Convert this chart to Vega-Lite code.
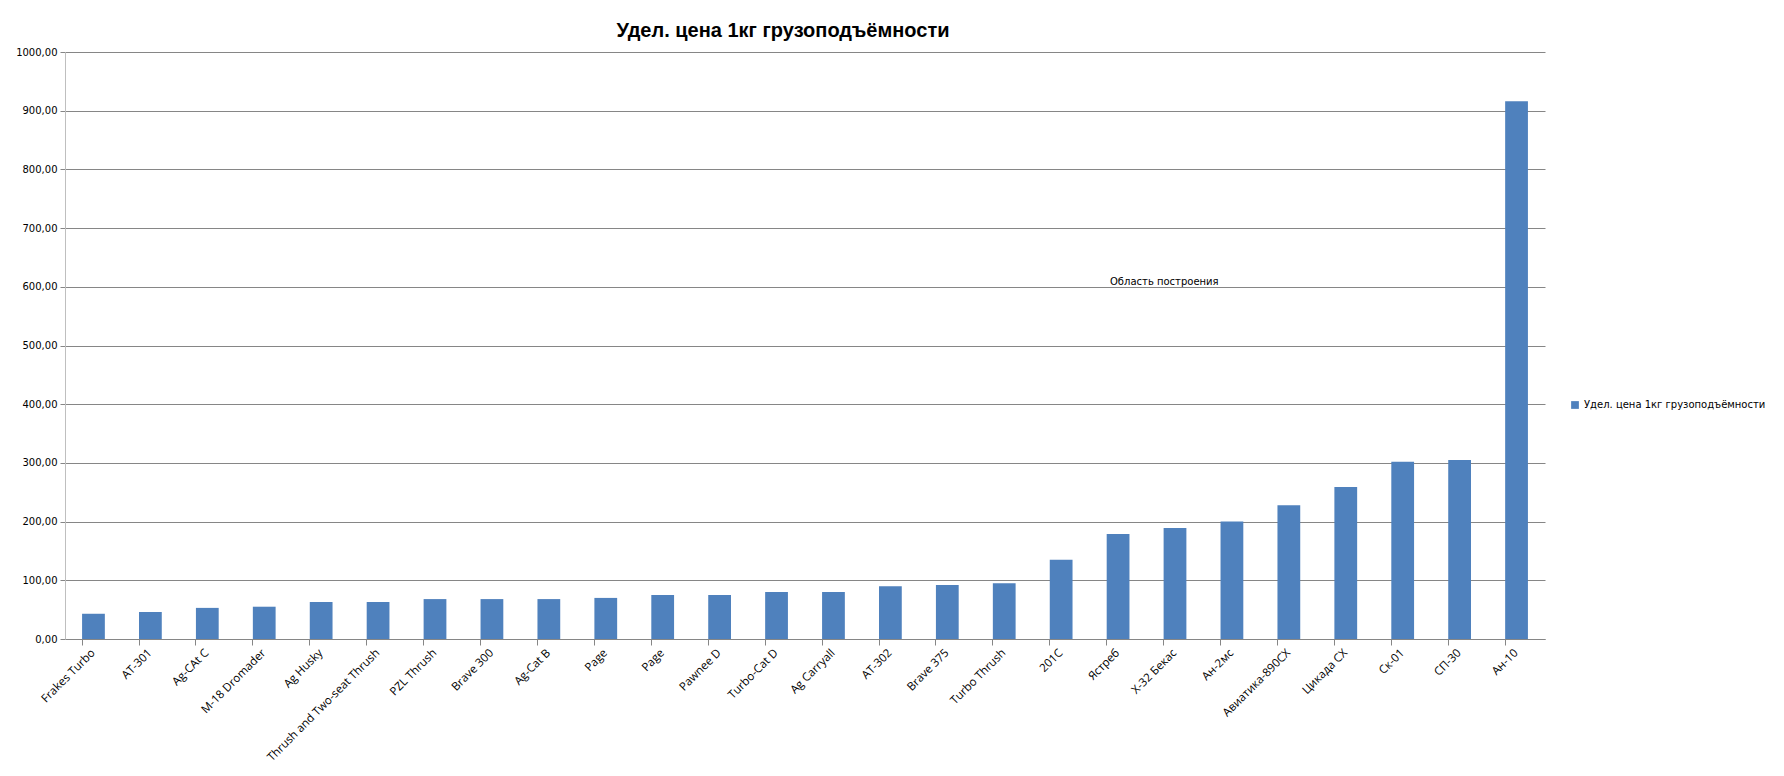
{
  "$schema": "https://vega.github.io/schema/vega-lite/v6.json",
  "autosize": "none",
  "padding": {"left": 65, "top": 52, "right": 239, "bottom": 137},
  "width": 1480,
  "height": 587,
  "background": "white",
  "title": {
    "text": "Удел. цена 1кг грузоподъёмности",
    "font": "Liberation Sans",
    "fontSize": 20,
    "fontWeight": "bold",
    "color": "black",
    "anchor": "middle",
    "dx": -22,
    "offset": 6
  },
  "config": {
    "view": {"stroke": null},
    "axis": {"labelFont": "DejaVu Sans", "labelFontSize": 10, "labelColor": "#000000"}
  },
  "datasets": {
    "bars": [
      {"name": "Frakes Turbo", "value": 43, "series": "Удел. цена  1кг грузоподъёмности"},
      {"name": "AT-301", "value": 46, "series": "Удел. цена  1кг грузоподъёмности"},
      {"name": "Ag-CAt C", "value": 53, "series": "Удел. цена  1кг грузоподъёмности"},
      {"name": "M-18 Dromader", "value": 55, "series": "Удел. цена  1кг грузоподъёмности"},
      {"name": "Ag Husky", "value": 63, "series": "Удел. цена  1кг грузоподъёмности"},
      {"name": "Thrush and Two-seat Thrush", "value": 63, "series": "Удел. цена  1кг грузоподъёмности"},
      {"name": "PZL Thrush", "value": 68, "series": "Удел. цена  1кг грузоподъёмности"},
      {"name": "Brave 300", "value": 68, "series": "Удел. цена  1кг грузоподъёмности"},
      {"name": "Ag-Cat B", "value": 68, "series": "Удел. цена  1кг грузоподъёмности"},
      {"name": "Page", "value": 70, "series": "Удел. цена  1кг грузоподъёмности"},
      {"name": "Page ", "value": 75, "series": "Удел. цена  1кг грузоподъёмности"},
      {"name": "Pawnee D", "value": 75, "series": "Удел. цена  1кг грузоподъёмности"},
      {"name": "Turbo-Cat D", "value": 80, "series": "Удел. цена  1кг грузоподъёмности"},
      {"name": "Ag Carryall", "value": 80, "series": "Удел. цена  1кг грузоподъёмности"},
      {"name": "AT-302", "value": 90, "series": "Удел. цена  1кг грузоподъёмности"},
      {"name": "Brave 375", "value": 92, "series": "Удел. цена  1кг грузоподъёмности"},
      {"name": "Turbo Thrush", "value": 95, "series": "Удел. цена  1кг грузоподъёмности"},
      {"name": "201C", "value": 135, "series": "Удел. цена  1кг грузоподъёмности"},
      {"name": "Ястреб", "value": 179, "series": "Удел. цена  1кг грузоподъёмности"},
      {"name": "Х-32 Бекас", "value": 189, "series": "Удел. цена  1кг грузоподъёмности"},
      {"name": "Ан-2мс", "value": 200, "series": "Удел. цена  1кг грузоподъёмности"},
      {"name": "Авиатика-890СХ", "value": 228, "series": "Удел. цена  1кг грузоподъёмности"},
      {"name": "Цикада  СХ", "value": 259, "series": "Удел. цена  1кг грузоподъёмности"},
      {"name": "Ск-01", "value": 302, "series": "Удел. цена  1кг грузоподъёмности"},
      {"name": "СП-30", "value": 305, "series": "Удел. цена  1кг грузоподъёмности"},
      {"name": "Ан-10", "value": 916, "series": "Удел. цена  1кг грузоподъёмности"}
    ],
    "note": [
      {"name": "Х-32 Бекас", "value": 608, "label": "Область построения"}
    ]
  },
  "resolve": {"axis": {"x": "independent"}},
  "layer": [
    {
      "data": {"name": "bars"},
      "mark": {"type": "bar", "color": "#4F81BD"},
      "encoding": {
        "x": {
          "field": "name",
          "type": "nominal",
          "sort": null,
          "title": null,
          "scale": {"paddingInner": 0.6, "paddingOuter": 0.3},
          "axis": {
            "orient": "bottom",
            "labelAngle": -45,
            "labelAlign": "right",
            "labelBaseline": "middle",
            "labelPadding": 12,
            "labelFont": "Open Sans",
            "labelFontSize": 11.5,
            "labelLimit": 300,
            "ticks": false,
            "domain": false,
            "grid": false
          }
        },
        "y": {
          "field": "value",
          "type": "quantitative",
          "title": null,
          "scale": {"domain": [0, 1000], "nice": false},
          "axis": {
            "values": [0, 100, 200, 300, 400, 500, 600, 700, 800, 900, 1000],
            "labelExpr": "replace(format(datum.value, '.2f'), '.', ',')",
            "grid": true,
            "gridColor": "#868686",
            "gridWidth": 1,
            "tickColor": "#868686",
            "tickSize": 5,
            "domainColor": "#BFBFBF",
            "labelPadding": 3
          }
        },
        "color": {
          "field": "series",
          "type": "nominal",
          "scale": {"range": ["#4F81BD"]},
          "legend": {
            "title": null,
            "orient": "none",
            "legendX": 1505,
            "legendY": 348,
            "symbolType": "square",
            "symbolSize": 60,
            "labelFont": "DejaVu Sans",
            "labelFontSize": 10,
            "labelLimit": 400,
            "labelColor": "#000000",
            "symbolStrokeWidth": 0
          }
        }
      }
    },
    {
      "data": {"name": "note"},
      "mark": {
        "type": "text",
        "align": "left",
        "baseline": "middle",
        "dx": -65,
        "font": "DejaVu Sans",
        "fontSize": 10,
        "color": "#000000"
      },
      "encoding": {
        "x": {
          "field": "name",
          "type": "nominal",
          "sort": null,
          "title": null,
          "axis": {
            "orient": "bottom",
            "labels": false,
            "bandPosition": 0,
            "ticks": true,
            "tickSize": 6,
            "tickColor": "#868686",
            "domainColor": "#868686",
            "grid": false
          }
        },
        "y": {"field": "value", "type": "quantitative"},
        "text": {"field": "label"}
      }
    }
  ]
}
